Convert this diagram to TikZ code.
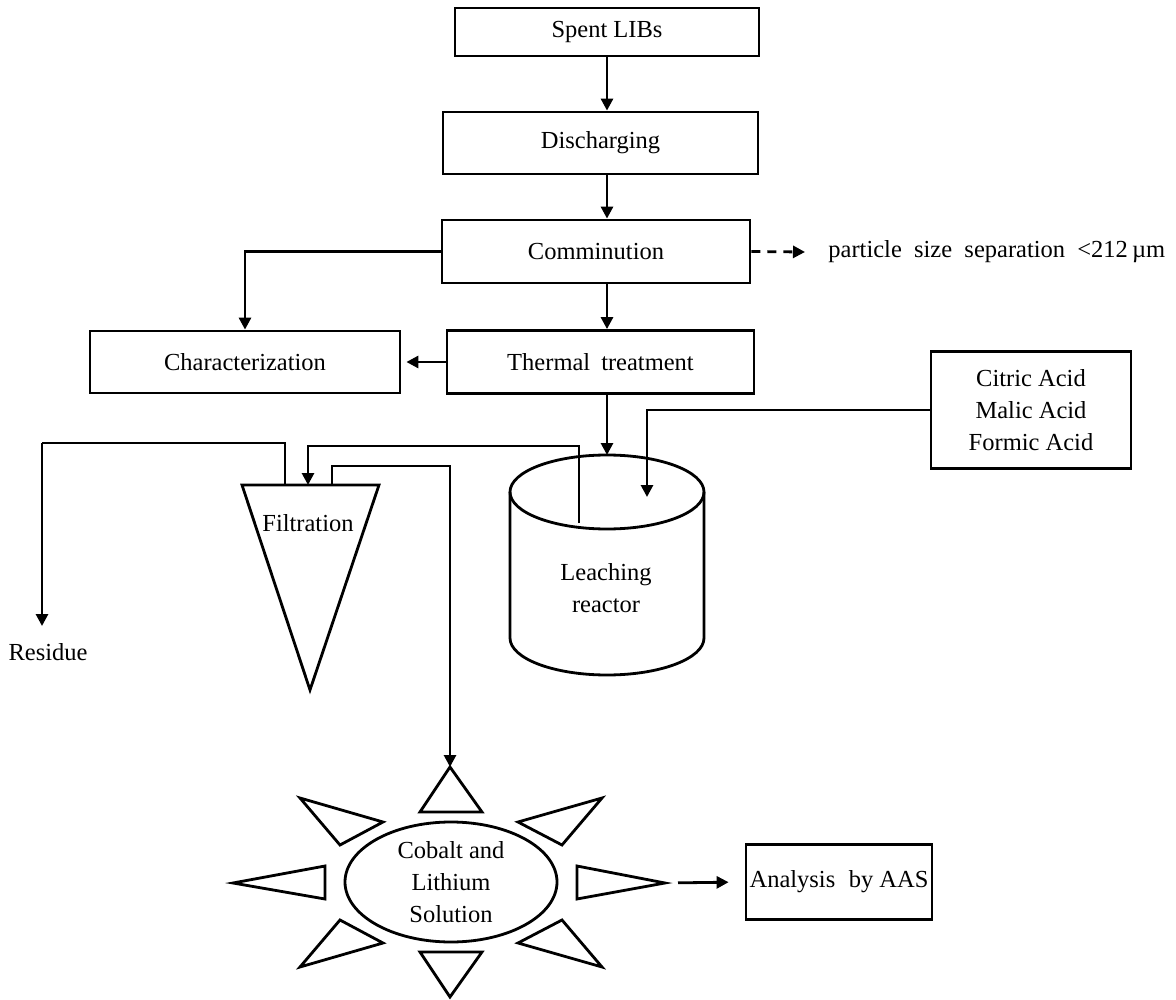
\documentclass[tikz,border=0pt]{standalone}
\usepackage{fontspec}
\setmainfont{Liberation Serif}
\usetikzlibrary{arrows.meta,shapes.geometric,calc}
\begin{document}
\begin{tikzpicture}[x=1pt,y=-1pt, line width=2.8pt,
  font=\fontsize{24.5}{32}\selectfont,
  box/.style={draw, rectangle, inner sep=0pt, align=center},
  arr/.style={-{Triangle[length=12pt,width=12pt]}},
  txt/.style={inner sep=0pt, align=center},
  tri/.style={draw, line join=miter}]
\useasboundingbox (0,0) rectangle (1176,1000);

% boxes
\node[box, minimum width=304pt, minimum height=48pt] (spent) at (607,32) {Spent LIBs};
\node[box, minimum width=315pt, minimum height=62pt] (disch) at (600.5,143) {Discharging};
\node[box, minimum width=308pt, minimum height=63pt] (commi) at (596,251.5) {Comminution};
\node[box, minimum width=310pt, minimum height=62pt] (charac) at (245,362) {Characterization};
\node[box, minimum width=307pt, minimum height=63pt] (therm) at (600.5,362) {Thermal\hspace{0.45em}treatment};
\node[box, minimum width=200pt, minimum height=117pt] (acid) at (1031,410) {Citric Acid\\Malic Acid\\Formic Acid};
\node[box, minimum width=186pt, minimum height=75pt] (ana) at (839,882) {Analysis\hspace{0.3em} by AAS};
\node[txt, anchor=west] (pss) at (827,252) {particle\ \ size\ \ separation\ \ <212\,µm};

% texts
\node[txt] (res) at (48,652) {Residue};
\node[txt] (filt) at (308,523) {Filtration};
\node[txt] (leach) at (606,588) {Leaching\\reactor};

% filter
\coordinate (fTL) at (242,485);
\coordinate (fTR) at (379,485);
\coordinate (fB) at (310,690);
\draw[tri] (fTL) -- (fTR) -- (fB) -- cycle;
\coordinate (fRes) at (285,485);
\coordinate (fIn) at (308,485);
\coordinate (fSol) at (332,485);

% leaching reactor (cylinder)
\draw (607,492) ellipse [x radius=97pt, y radius=37pt];
\draw (510,492) -- (510,638) arc[start angle=180, end angle=360, x radius=97pt, y radius=37pt] -- (704,492);
\coordinate (cylTop) at (607,455);
\coordinate (cylOut) at (579,523);
\coordinate (acidIn) at (647,497);

% solution with rays
\node[draw, ellipse, inner sep=0pt, minimum width=212pt, minimum height=120pt, align=center] (sol) at (451,882) {Cobalt and\\Lithium\\Solution};
\coordinate (starTop) at (450,767);
\coordinate (starR) at (665,883);
\draw[tri] (starTop) -- (420,812) -- (482,812) -- cycle;
\draw[tri] (420,952) -- (482,952) -- (450,997) -- cycle;
\draw[tri] (233,883) -- (325,866) -- (325,899) -- cycle;
\draw[tri] (577,866) -- (577,899) -- (starR) -- cycle;
\draw[tri] (300,798) -- (383,822) -- (340,845) -- cycle;
\draw[tri] (602,798) -- (518,822) -- (562,845) -- cycle;
\draw[tri] (340,920) -- (383,943) -- (300,967) -- cycle;
\draw[tri] (562,920) -- (518,943) -- (602,967) -- cycle;

\coordinate (resIn) at (42,626);

% connectors
\draw[arr] (spent.south) -- (disch.north -| spent.south);
\draw[arr] (disch.south -| spent.south) -- (commi.north -| spent.south);
\draw[arr] (commi.south -| spent.south) -- (therm.north -| spent.south);
\draw[arr] (commi.west) -| (charac.north);
\draw[arr, shorten >=5pt] (therm.west) -- (charac.east);
\draw[arr, dash pattern=on 9pt off 7pt] (commi.east) -- ([xshift=-22pt]pss.west);
\draw[arr] (therm.south -| spent.south) -- (cylTop);
\draw[arr] (acid.west) -| (acidIn);
\draw[arr] (cylOut) -- (579,446) -- (308,446) -- (fIn);
\draw (fRes) -- (285,443) -- (42,443);
\draw[arr] (42,443) -- (resIn);
\draw[arr] (fSol) -- (332,466) -| (starTop);
\draw[arr, shorten <=13pt, shorten >=16pt] (starR) -- (ana.west);
\end{tikzpicture}
\end{document}
